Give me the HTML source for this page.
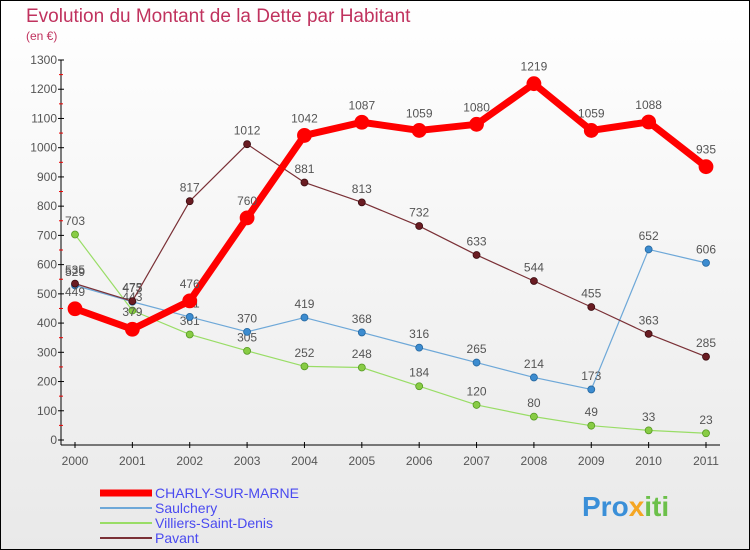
<!DOCTYPE html>
<html><head><meta charset="utf-8"><style>
body{margin:0;width:750px;height:550px;overflow:hidden;font-family:"Liberation Sans",sans-serif}
svg{display:block}
</style></head><body>
<svg id="c" width="750" height="550" font-family="Liberation Sans, sans-serif">
<defs><linearGradient id="bg" x1="0" y1="0" x2="0" y2="1"><stop offset="0" stop-color="#ffffff"/><stop offset="1" stop-color="#e9e9e9"/></linearGradient></defs>
<rect x="0.5" y="0.5" width="749" height="549" fill="url(#bg)" stroke="#000"/>
<text x="26" y="22" font-size="19" fill="#c0325e">Evolution du Montant de la Dette par Habitant</text>
<text x="26" y="40" font-size="12" fill="#c0325e">(en €)</text>
<g id="axes"></g><g id="marks"></g><g id="legend"></g>
<text x="582" y="516" font-size="28" font-weight="bold" fill="#3a8fd8">Pro<tspan fill="#f5a623">x</tspan><tspan fill="#6cc04a">iti</tspan></text>
</svg>
<script>
const years=[2000,2001,2002,2003,2004,2005,2006,2007,2008,2009,2010,2011];
const charly=[449,379,476,760,1042,1087,1059,1080,1219,1059,1088,935];
const saulchery=[529,473,421,370,419,368,316,265,214,173,652,606];
const villiers=[703,443,361,305,252,248,184,120,80,49,33,23];
const pavant=[535,475,817,1012,881,813,732,633,544,455,363,285];
const yTicks=[0,100,200,300,400,500,600,700,800,900,1000,1100,1200,1300];
const NS="http://www.w3.org/2000/svg";
const X=i=>75+i*(706-75)/11;
const Y=v=>440-v*(380/1300);
function mk(t,a,p){const e=document.createElementNS(NS,t);for(const k in a)e.setAttribute(k,a[k]);p.appendChild(e);return e;}
const ax=document.getElementById('axes');
const yAxis=mk('line',{x1:61,y1:60,x2:61,y2:445,stroke:'#000'},ax);


const xAxis=mk('line',{x1:61,y1:445,x2:720,y2:445,stroke:'#000'},ax);


yTicks.forEach((v,i)=>{
  mk('line',{x1:58,y1:Y(v),x2:64,y2:Y(v),stroke:'#000'},ax);
  if(i<yTicks.length-1) mk('line',{x1:59,y1:Y(v+50),x2:63,y2:Y(v+50),stroke:'#e00'},ax);
  const t=mk('text',{x:57,y:Y(v)+4,'font-size':12,fill:'#555','text-anchor':'end'},ax);t.textContent=v;
  
  
});
years.forEach((y,i)=>{
  mk('line',{x1:X(i),y1:442,x2:X(i),y2:448,stroke:'#000'},ax);
  const t=mk('text',{x:X(i),y:465,'font-size':12,fill:'#555','text-anchor':'middle'},ax);t.textContent=y;
  
  
});
const mg=document.getElementById('marks');
function series(vals,color,dot,w,r,name,dark){
  const g=mk('g',{},mg);
  
  
  mk('polyline',{points:vals.map((v,i)=>X(i)+','+Y(v)).join(' '),fill:'none',stroke:color,'stroke-width':w,'stroke-linejoin':'round'},g);
  vals.forEach((v,i)=>{
    const c=mk('circle',{cx:X(i),cy:Y(v),r:r,fill:dot,stroke:dark,'stroke-width':0.8},g);
    
    
    const t=mk('text',{x:X(i),y:Y(v)-(r+6),'font-size':12,fill:'#555','text-anchor':'middle'},g);t.textContent=v;
    
    
  });
}
series(villiers,'#99dd66','#88cc44',1.2,3.5,'villiers-series','#559922');
series(saulchery,'#6ea8d8','#3c8cd0',1.2,3.5,'saulchery-series','#25679f');
series(pavant,'#7a3036','#6a1c22',1.2,3.5,'pavant-series','#3a0c10');
series(charly,'#ff0000','#ff0000',7,7,'charly-series','#ff0000');
const lg=document.getElementById('legend');
const items=[['CHARLY-SUR-MARNE','#ff0000',7],['Saulchery','#6ea8d8',2],['Villiers-Saint-Denis','#99dd66',2],['Pavant','#7a3036',2]];
items.forEach((it,i)=>{
  const y=493+i*15;
  const g=mk('g',{},lg);
  
  
  mk('line',{x1:100,y1:y,x2:152,y2:y,stroke:it[1],'stroke-width':it[2]},g);
  const t=mk('text',{x:155,y:y+5,'font-size':14,fill:'#4a4af0'},g);t.textContent=it[0];
});
</script>
</body></html>
